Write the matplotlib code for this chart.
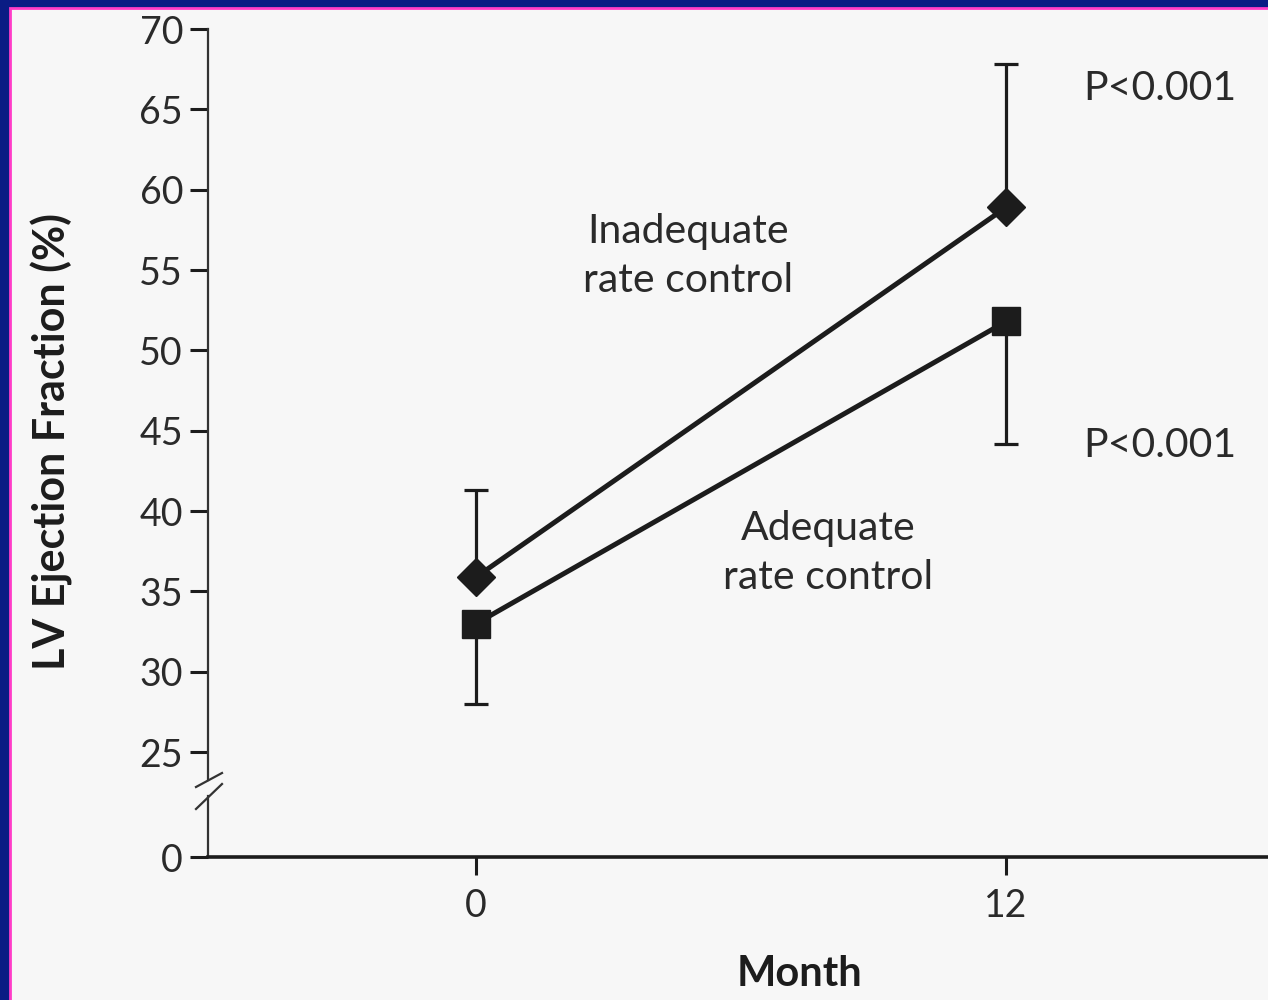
import matplotlib
matplotlib.use("Agg")
import matplotlib.pyplot as plt
from matplotlib.patches import Rectangle
from matplotlib.lines import Line2D

# data
months = [0, 12]
inadequate = [35.9, 58.9]        # diamonds
inadequate_upper = [5.4, 8.9]    # error bar above the mean
adequate = [33.0, 51.8]          # squares
adequate_lower = [5.0, 7.6]      # error bar below the mean
p_labels = ["P<0.001", "P<0.001"]
y_ticks = [25, 30, 35, 40, 45, 50, 55, 60, 65, 70]

W, H = 1268, 1000
ink = "#1c1c1c"
txt = "#2a2a2a"
plt.rcParams["font.family"] = ["Lato", "DejaVu Sans"]

fig = plt.figure(figsize=(W / 100, H / 100), dpi=100)
fig.patch.set_facecolor("#0a1c84")
fig.add_artist(Rectangle((9.5 / W, -0.05), 1.2, 1 - 7.5 / H + 0.05,
                         transform=fig.transFigure, facecolor="#f7f7f7",
                         edgecolor="#ff3cc8", lw=2, zorder=0))

def px_box(left, top, right, bottom):
    return [left / W, 1 - bottom / H, (right - left) / W, (bottom - top) / H]

ax = fig.add_axes(px_box(208, 29, 1268, 780))
axb = fig.add_axes(px_box(208, 796, 1268, 857))
for a in (ax, axb):
    a.set_facecolor("none")
    a.set_xlim(-6.07, 17.93)
    for s in ("top", "right"):
        a.spines[s].set_visible(False)
    a.spines["left"].set_linewidth(1.6)
    a.spines["left"].set_color("#333333")
    a.tick_params(axis="both", length=13, width=2.2, color=ink,
                  labelsize=27, labelcolor=txt, pad=5)

ax.set_ylim(23.27, 70)
ax.spines["bottom"].set_visible(False)
ax.set_xticks([])
ax.set_yticks(y_ticks)

axb.set_ylim(0, 3.8)
axb.set_yticks([0])
axb.set_xticks(months)
axb.spines["bottom"].set_linewidth(2.6)
axb.spines["bottom"].set_color(ink)
axb.tick_params(axis="x", pad=9)
axb.set_xlabel("Month", fontsize=30, fontweight="bold", color=ink, va="top")
axb.xaxis.set_label_coords((800 - 208) / 1060, -1.6)

# error bars (one-sided)
ax.errorbar(months, inadequate, yerr=[[0, 0], inadequate_upper], fmt="none",
            ecolor=ink, elinewidth=2.3, capsize=8.5, capthick=2.3, zorder=2)
ax.errorbar(months, adequate, yerr=[adequate_lower, [0, 0]], fmt="none",
            ecolor=ink, elinewidth=2.3, capsize=8.5, capthick=2.3, zorder=2)

ax.plot(months, inadequate, color=ink, lw=3.6, marker="D", ms=19.5,
        mfc=ink, mec=ink, zorder=3, clip_on=False)
ax.plot(months, adequate, color=ink, lw=3.6, marker="s", ms=19.5,
        mfc=ink, mec=ink, zorder=3, clip_on=False)

ax.text(4.8, 55.9, "Inadequate\nrate control", ha="center", va="center",
        fontsize=29.5, color=txt, linespacing=1.4)
ax.text(7.97, 37.4, "Adequate\nrate control", ha="center", va="center",
        fontsize=29.5, color=txt, linespacing=1.4)
ax.text(13.74, inadequate[1] + inadequate_upper[1] - 1.5, p_labels[0],
        ha="left", va="center", fontsize=29.5, color=txt)
ax.text(13.74, adequate[1] - adequate_lower[1] - 0.1, p_labels[1],
        ha="left", va="center", fontsize=29.5, color=txt)

fig.text(52 / W, 1 - 442 / H, "LV Ejection Fraction (%)", rotation=90,
         ha="center", va="center", fontsize=31, fontweight="bold", color=ink)

# axis break marks
for y0, y1 in [(787, 773), (809, 784)]:
    fig.add_artist(Line2D([196 / W, 222 / W], [1 - y0 / H, 1 - y1 / H],
                          transform=fig.transFigure, color="#333333", lw=1.6))

fig.savefig("out.png", dpi=100, facecolor=fig.get_facecolor())
